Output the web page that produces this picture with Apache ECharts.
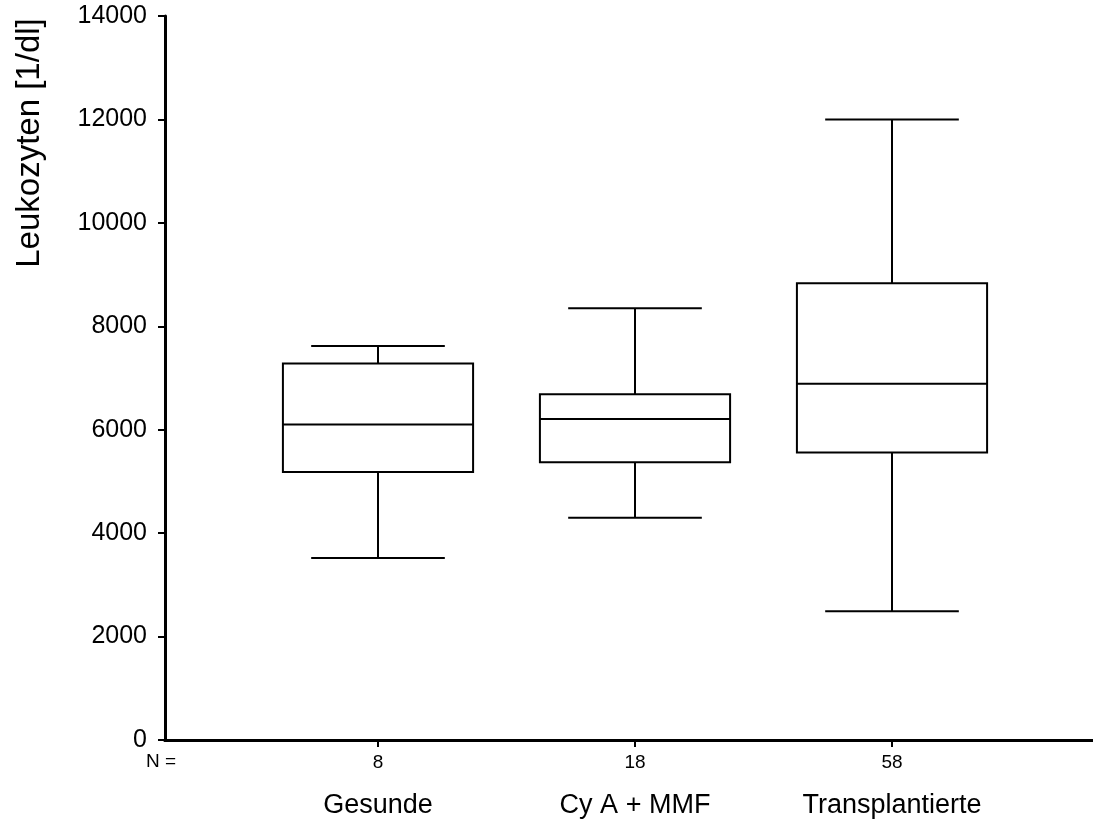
<!DOCTYPE html>
<html>
<head>
<meta charset="utf-8">
<script src="https://cdn.jsdelivr.net/npm/echarts@6/dist/echarts.min.js"></script>
<style>
  html, body { margin: 0; padding: 0; background: #fff; }
  #chart { width: 1093px; height: 820px; }
</style>
</head>
<body>
<div id="chart"></div>
<script>
// Gruppen und Kennwerte
const categories = ['Gesunde', 'Cy A + MMF', 'Transplantierte']
const counts = [8, 18, 58]
const whiskerLow = [3520, 4300, 2490]
const q1 = [5180, 5370, 5560]
const median = [6100, 6205, 6890]
const q3 = [7280, 6685, 8830]
const whiskerHigh = [7620, 8350, 12000]

const FONT = '"Liberation Sans", Arial, sans-serif'
const BOX_HALF = 0.37   // halbe Boxbreite in x-Einheiten
const CAP_HALF = 0.26   // halbe Whisker-Breite
const TICK_LEN = 7      // Achsenstrich unter der x-Achse (px)

const chart = echarts.init(document.getElementById('chart'), null, { renderer: 'canvas' })

const boxData = categories.map((c, i) => [i + 1, whiskerLow[i], q1[i], median[i], q3[i], whiskerHigh[i]])

// Box mit Whiskern zeichnen
const renderBox = (params, api) => {
  const x = api.value(0)
  const lo = api.coord([x, api.value(1)])
  const b1 = api.coord([x, api.value(2)])
  const md = api.coord([x, api.value(3)])
  const b3 = api.coord([x, api.value(4)])
  const hi = api.coord([x, api.value(5)])
  const base = api.coord([x, 0])
  const bw = api.size([BOX_HALF, 0])[0]
  const cw = api.size([CAP_HALF, 0])[0]
  const cx = lo[0]
  const style = { stroke: '#000', lineWidth: 2, fill: null }
  const line = (x1, y1, x2, y2) => ({ type: 'line', shape: { x1, y1, x2, y2 }, style })
  return {
    type: 'group',
    children: [
      line(cx, hi[1], cx, b3[1]),
      line(cx - cw, hi[1], cx + cw, hi[1]),
      line(cx, b1[1], cx, lo[1]),
      line(cx - cw, lo[1], cx + cw, lo[1]),
      { type: 'rect', shape: { x: cx - bw, y: b3[1], width: 2 * bw, height: b1[1] - b3[1] }, style: { stroke: '#000', lineWidth: 2, fill: '#fff' } },
      line(cx - bw, md[1], cx + bw, md[1]),
      // Strich an der Kategorie unter der Achse
      line(cx, base[1], cx, base[1] + TICK_LEN)
    ]
  }
}

const option = {
  animation: false,
  backgroundColor: '#fff',
  grid: { left: 165, right: 0, top: 16, bottom: 80 },
  xAxis: [
    {
      type: 'value',
      min: 0.1712,
      max: 3.7821,
      splitLine: { show: false },
      axisLine: { show: true, onZero: false, lineStyle: { color: '#000', width: 3 } },
      axisTick: { show: false },
      axisLabel: {
        show: true,
        customValues: [1, 2, 3],
        margin: 12,
        color: '#000',
        fontFamily: FONT,
        formatter: (v) => {
          const i = Math.round(v) - 1
          return '{n|' + counts[i] + '}\n{c|' + categories[i] + '}'
        },
        rich: {
          n: { fontSize: 19, lineHeight: 22, fontFamily: FONT, color: '#000' },
          c: { fontSize: 27, lineHeight: 64, fontFamily: FONT, color: '#000' }
        }
      }
    },
    {
      type: 'value',
      position: 'top',
      min: 0,
      max: 1,
      splitLine: { show: false },
      axisLine: { show: true, lineStyle: { color: '#000', width: 3 } },
      axisTick: { show: false },
      axisLabel: { show: false }
    }
  ],
  yAxis: {
    type: 'value',
    min: 0,
    max: 14000,
    interval: 2000,
    splitLine: { show: false },
    axisLine: { show: true, lineStyle: { color: '#000', width: 3 } },
    axisTick: { show: true, length: 7, lineStyle: { color: '#000', width: 2 } },
    axisLabel: { color: '#000', fontSize: 25, fontFamily: FONT, margin: 18, formatter: (v) => String(v) }
  },
  graphic: [
    {
      type: 'text',
      left: 146, top: 752,
      style: { text: 'N =', fontSize: 19, fontFamily: FONT, fill: '#000' }
    },
    {
      type: 'text',
      x: 30, y: 143,
      rotation: Math.PI / 2,
      style: { text: 'Leukozyten [1/dl]', fontSize: 33, fontFamily: FONT, fill: '#000', align: 'center', verticalAlign: 'middle' }
    }
  ],
  series: [
    {
      type: 'custom',
      renderItem: renderBox,
      data: boxData,
      encode: { x: 0, y: [1, 2, 3, 4, 5] },
      clip: false
    }
  ]
}

chart.setOption(option)
</script>
</body>
</html>
